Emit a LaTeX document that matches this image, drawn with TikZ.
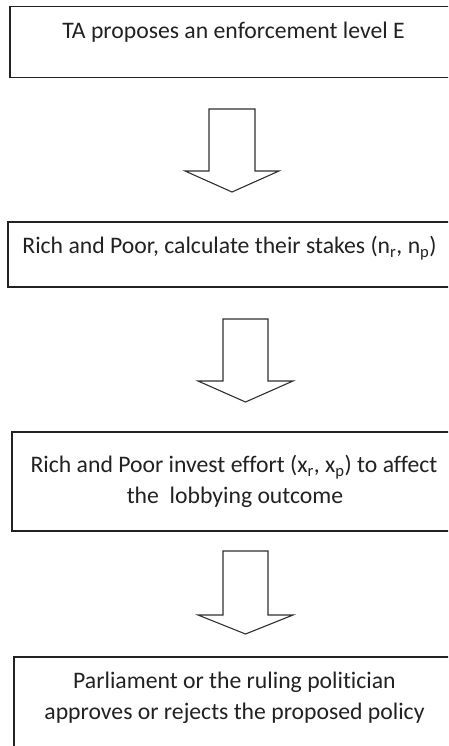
\documentclass[tikz,border=0pt]{standalone}
\usepackage{fontspec}
\setmainfont{Carlito}[Ligatures={NoCommon,NoRare}]
\usetikzlibrary{calc}
\definecolor{ink}{HTML}{222222}
\definecolor{arrowink}{HTML}{303030}
\tikzset{
  box/.style={draw=ink, line width=1.5pt, rectangle, inner sep=0pt, anchor=north west},
  txt/.style={text=ink, inner sep=0pt, anchor=base, font=\fontsize{23.7}{31}\selectfont},
  barrow/.style={draw=arrowink, line width=1.1pt, line join=miter, fill=white}
}
\begin{document}
\begin{tikzpicture}[x=1pt, y=-1pt]
\useasboundingbox (0,0) rectangle (448,746);
\clip (0,0) rectangle (448,746);
\fill[white] (0,0) rectangle (448,746);
% boxes
\node[box, minimum width=449pt, minimum height=71pt] (b1) at (9,6) {};
\node[box, minimum width=445pt, minimum height=65pt] (b2) at (7,221) {};
\node[box, minimum width=447pt, minimum height=99pt] (b3) at (11,431) {};
\node[box, minimum width=445pt, minimum height=110pt] (b4) at (13,656) {};
% texts
\node[txt] (t1) at (233.5,39) {TA proposes an enforcement level E};
\node[txt] (t2) at (229.5,253.5) {Rich and Poor, calculate their stakes (n\textsubscript{r}, n\textsubscript{p})};
\node[txt] (t3a) at (234,472.5) {Rich and Poor invest effort (x\textsubscript{r}, x\textsubscript{p}) to affect};
\node[txt] (t3b) at (235,503.5) {the~ lobbying outcome};
\node[txt] (t4a) at (234.5,688.5) {Parliament or the ruling politician};
\node[txt] (t4b) at (234.5,719.5) {approves or rejects the proposed policy};
% block arrows
\coordinate (a1top) at (232,109);
\coordinate (a1tip) at (232,192);
\coordinate (a2top) at (245.5,319);
\coordinate (a2tip) at (245.5,402);
\coordinate (a3top) at (245.5,551);
\coordinate (a3tip) at (245.5,634);
\draw[barrow] ($(a1top)+(-23,0)$) -- ($(a1top)+(-23,62)$) -- ($(a1top)+(-47,62)$) -- (a1tip)
  -- ($(a1top)+(47,62)$) -- ($(a1top)+(23,62)$) -- ($(a1top)+(23,0)$) -- cycle;
\draw[barrow] ($(a2top)+(-22.5,0)$) -- ($(a2top)+(-22.5,62)$) -- ($(a2top)+(-47.5,62)$) -- (a2tip)
  -- ($(a2top)+(47.5,62)$) -- ($(a2top)+(22.5,62)$) -- ($(a2top)+(22.5,0)$) -- cycle;
\draw[barrow] ($(a3top)+(-22.5,0)$) -- ($(a3top)+(-22.5,64)$) -- ($(a3top)+(-47.5,64)$) -- (a3tip)
  -- ($(a3top)+(47.5,64)$) -- ($(a3top)+(22.5,64)$) -- ($(a3top)+(22.5,0)$) -- cycle;
\end{tikzpicture}
\end{document}
